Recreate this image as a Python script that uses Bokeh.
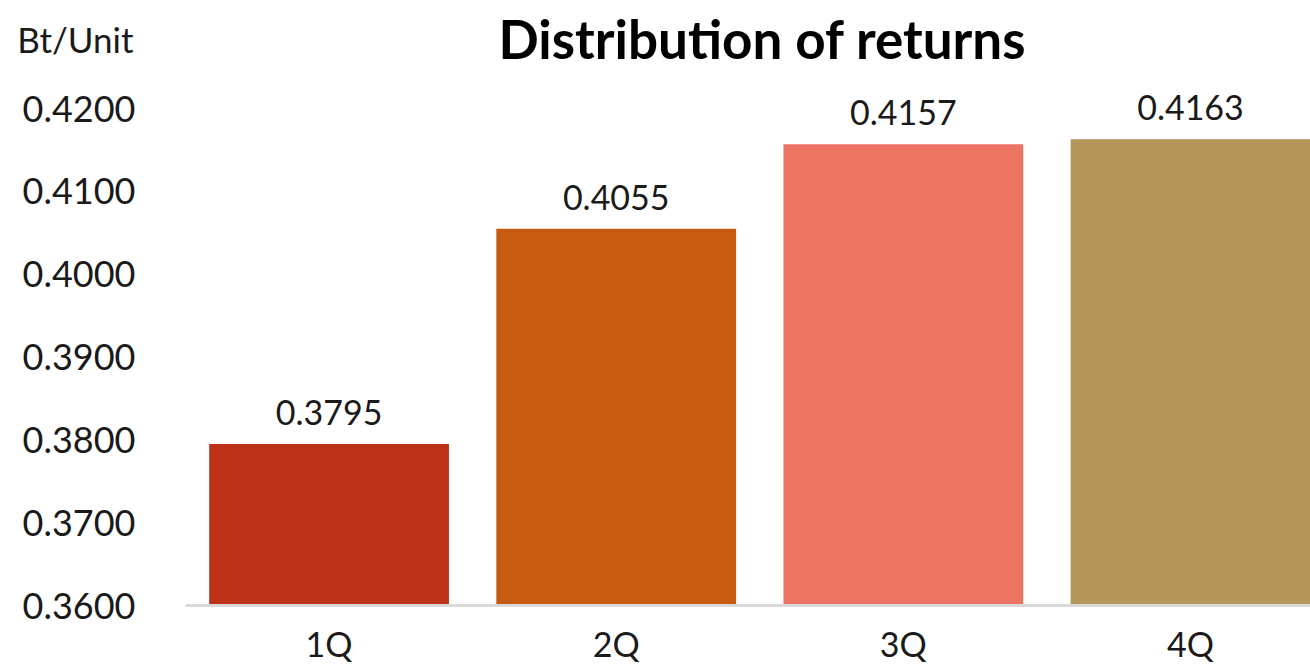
from bokeh.plotting import figure
from bokeh.layouts import column
from bokeh.models import Range1d, Label, ColumnDataSource, FixedTicker, LinearAxis
from bokeh.core.properties import value
from bokeh.embed import file_html
from bokeh.resources import INLINE

categories = ["1Q", "2Q", "3Q", "4Q"]
values = [0.3795, 0.4055, 0.4157, 0.4163]
colors = ["#BD3119", "#C55A11", "#EB7462", "#B5965B"]
y_ticks = [0.36, 0.37, 0.38, 0.39, 0.40, 0.41, 0.42]
title_text = "Distribution of returns"
unit_text = "Bt/Unit"

FONT = "Lato"
HEADER_H = 76
LEFT = 185

# header strip with title and unit text
h = figure(width=1310, height=HEADER_H, output_backend="svg", toolbar_location=None,
           x_range=Range1d(0, 1310), y_range=Range1d(0, HEADER_H),
           min_border=0, min_border_left=LEFT, x_axis_type=None, y_axis_type=None)
h.outline_line_color = None
h.xgrid.visible = False
h.ygrid.visible = False
unit_axis = LinearAxis(ticker=FixedTicker(ticks=[]), axis_label=unit_text,
                       axis_label_orientation="horizontal", axis_label_standoff=52,
                       axis_label_text_font_size="35px", axis_label_text_font=FONT,
                       axis_label_text_font_style="normal", axis_label_text_color="#1a1a1a",
                       axis_line_color=None, major_tick_line_color=None, minor_tick_line_color=None,
                       major_tick_out=0, major_tick_in=0, minor_tick_out=0)
h.add_layout(unit_axis, "left")
h.add_layout(Label(x=762 - LEFT, y=HEADER_H - 38, x_units="screen", y_units="screen", text=title_text,
                   text_align="center", text_baseline="middle", text_font_size="53px",
                   text_font_style="bold", text_font=FONT, text_color="#000000"))

xs = list(range(1, len(categories) + 1))
labels = ["%.4f" % v for v in values]
src = ColumnDataSource(dict(x=xs, top=values, color=colors, label=labels))

p = figure(width=1310, height=666 - HEADER_H, output_backend="svg", toolbar_location=None,
           x_range=Range1d(0.5, 4.418), y_range=Range1d(0.36, 0.42387),
           min_border_left=LEFT, min_border_right=0, min_border_top=0, min_border_bottom=0)
p.outline_line_color = None
p.xgrid.visible = False
p.ygrid.visible = False

p.vbar(x="x", top="top", bottom=0.36, width=0.835, color="color", line_color=None, source=src)
p.text(x="x", y="top", text="label", source=src, text_align="center", text_baseline="bottom",
       y_offset=-19, text_font_size="34px", text_color="#1a1a1a", text_font=value(FONT))

p.xaxis.ticker = FixedTicker(ticks=xs)
p.xaxis.major_label_overrides = {x: c for x, c in zip(xs, categories)}
p.xaxis.axis_line_color = "#D9D9D9"
p.xaxis.axis_line_width = 3
p.xaxis.major_tick_line_color = None
p.xaxis.minor_tick_line_color = None
p.xaxis.major_tick_out = 0
p.xaxis.major_tick_in = 0
p.xaxis.minor_tick_out = 0
p.xaxis.major_label_text_font_size = "34px"
p.xaxis.major_label_text_font = FONT
p.xaxis.major_label_text_color = "#1a1a1a"
p.xaxis.major_label_standoff = 17

p.yaxis.ticker = FixedTicker(ticks=y_ticks)
p.yaxis.major_label_overrides = {t: "%.4f" % t for t in y_ticks}
p.yaxis.axis_line_color = None
p.yaxis.major_tick_line_color = None
p.yaxis.minor_tick_line_color = None
p.yaxis.major_tick_out = 0
p.yaxis.major_tick_in = 0
p.yaxis.minor_tick_out = 0
p.yaxis.major_label_text_font_size = "36px"
p.yaxis.major_label_text_font = FONT
p.yaxis.major_label_text_color = "#1a1a1a"
p.yaxis.major_label_standoff = 50

layout = column(h, p, spacing=0)
open("out.html", "w").write(file_html(layout, INLINE))
